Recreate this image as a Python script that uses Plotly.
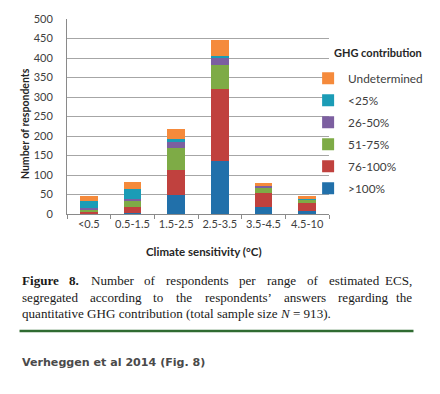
import plotly.graph_objects as go

categories = ["<0.5", "0.5-1.5", "1.5-2.5", "2.5-3.5", "3.5-4.5", "4.5-10"]
over_100 = [1, 2, 49, 135, 17, 7]
p76_100 = [6, 16, 64, 185, 38, 22]
p51_75 = [4, 15, 57, 63, 13, 7]
p26_50 = [4, 6, 17, 17, 3, 2]
under_25 = [18, 24, 5, 6, 0, 3]
undetermined = [12, 18, 27, 41, 8, 4]

series_names = [">100%", "76-100%", "51-75%", "26-50%", "<25%", "Undetermined"]
series_values = [over_100, p76_100, p51_75, p26_50, under_25, undetermined]
series_colors = ["#2170aa", "#c0413e", "#7eab46", "#7c5fa0", "#1b9cb6", "#f58a3b"]

W, H = 440, 394
ML, MT = 67, 13
PW, PH = 343 - 67, 214 - 13
MR = W - ML - PW
MB = H - MT - PH


def px(p):
    return (p - ML) / PW


def py(p):
    return (MT + PH - p) / PH


fig = go.Figure()
for i, (name, vals, col) in enumerate(zip(series_names, series_values, series_colors)):
    fig.add_trace(go.Bar(x=categories, y=vals, name=name, marker_color=col,
                         marker_line_width=0, legendgroup=str(i), legendrank=len(series_names) - i))

font_main = "Lato, 'Liberation Sans', sans-serif"
serif = "'Liberation Serif', 'Times New Roman', serif"

fig.update_layout(
    width=W, height=H,
    margin=dict(l=ML, r=MR, t=MT, b=MB, pad=0),
    barmode="stack", bargap=0.6,
    plot_bgcolor="white", paper_bgcolor="white",
    font=dict(family=font_main, size=11, color="#404040"),
    showlegend=True,
    legend=dict(
        x=px(321), y=py(59), xanchor="left", yanchor="top",
        traceorder="grouped", tracegroupgap=3, itemwidth=30,
        font=dict(family=font_main, size=11.8, color="#404040"),
        bgcolor="rgba(0,0,0,0)", itemclick=False,
    ),
    xaxis=dict(
        showline=True, linecolor="#8a8a8a", linewidth=1,
        ticks="outside", tickson="boundaries", ticklen=4, tickcolor="#8a8a8a", tickangle=0,
        tickfont=dict(family=font_main, size=11, color="#404040"),
        showgrid=False, fixedrange=True,
    ),
    yaxis=dict(
        range=[0, 500], dtick=50,
        showline=True, linecolor="#8a8a8a", linewidth=1,
        showgrid=True, gridcolor="#a6a6a6", gridwidth=1,
        tickfont=dict(family=font_main, size=11, color="#404040"),
        ticklabelstandoff=11, ticklabeloverflow="allow", zeroline=False, fixedrange=True,
    ),
)

ann = []
ann.append(dict(text="<b>GHG contribution</b>", x=px(346), y=py(48), xref="paper", yref="paper",
                xanchor="left", yanchor="middle", showarrow=False,
                font=dict(family=font_main, size=11, color="#262626")))
ann.append(dict(text="<b>Number of respondents</b>", x=px(22), y=py(121), xref="paper", yref="paper",
                xanchor="center", yanchor="middle", showarrow=False, textangle=-90,
                font=dict(family=font_main, size=10.5, color="#262626")))
ann.append(dict(text="<b>Climate sensitivity (°C)</b>", x=px(211.5), y=py(253), xref="paper", yref="paper",
                xanchor="center", yanchor="middle", showarrow=False,
                font=dict(family=font_main, size=11.5, color="#262626")))

# Times-compatible advance widths (per 1000 em) for the justified caption layout
TW = dict(zip("abcdefghijklmnopqrstuvwxyz",
              [444, 500, 444, 500, 444, 333, 500, 500, 278, 278, 500, 278, 778, 500, 500, 500, 500,
               333, 389, 278, 500, 500, 722, 500, 500, 444]))
TW.update({",": 250, ".": 250, "’": 333, "E": 611, "C": 667, "S": 556, "N": 722, "8": 500})
TWB = dict(TW)
TWB.update({"F": 611, "i": 278, "g": 500, "u": 556, "r": 444, "e": 444, "8": 500, ".": 250})

CAP_SIZE = 13.1


def word_w(w, bold=False):
    t = TWB if bold else TW
    return sum(t.get(c, 500) for c in w) / 1000 * CAP_SIZE * 1.03


def justify(words, y, x0=17, x1=433):
    widths = [word_w(w, b) for w, b in words]
    gap = (x1 - x0 - sum(widths)) / (len(words) - 1)
    x = x0
    for k, ((w, b), ww) in enumerate(zip(words, widths)):
        last = k == len(words) - 1
        ann.append(dict(text=f"<b>{w}</b>" if b else w,
                        x=px(x1 if last else x), y=py(y), xref="paper", yref="paper",
                        xanchor="right" if last else "left", yanchor="middle", showarrow=False,
                        font=dict(family=serif, size=CAP_SIZE, color="#1a1a1a")))
        x += ww + gap


line1 = [("Figure", True), ("8.", True), ("Number", False), ("of", False), ("respondents", False),
         ("per", False), ("range", False), ("of", False), ("estimated", False), ("ECS,", False)]
line2 = [("segregated", False), ("according", False), ("to", False), ("the", False),
         ("respondents’", False), ("answers", False), ("regarding", False), ("the", False)]
justify(line1, 283)
justify(line2, 300)
ann.append(dict(text="quantitative GHG contribution (total sample size <i>N</i> = 913).", x=px(17), y=py(317),
                xref="paper", yref="paper", xanchor="left", yanchor="middle", showarrow=False,
                font=dict(family=serif, size=CAP_SIZE, color="#1a1a1a")))
ann.append(dict(text="<b>Verheggen et al 2014 (Fig. 8)</b>", x=px(17), y=py(367), xref="paper", yref="paper",
                xanchor="left", yanchor="middle", showarrow=False,
                font=dict(family="'DejaVu Sans', Verdana, sans-serif", size=11.1, color="#4a4a4a")))
fig.update_layout(annotations=ann)

fig.add_shape(type="line", xref="paper", yref="paper", x0=px(17), x1=px(432), y0=py(334.5), y1=py(334.5),
              line=dict(color="#2f6b31", width=2.5))

fig.write_html("out.html", config={"displayModeBar": False},
               post_script="document.body.style.margin='0';document.body.style.overflow='hidden';"
                           "document.documentElement.style.overflow='hidden';")
